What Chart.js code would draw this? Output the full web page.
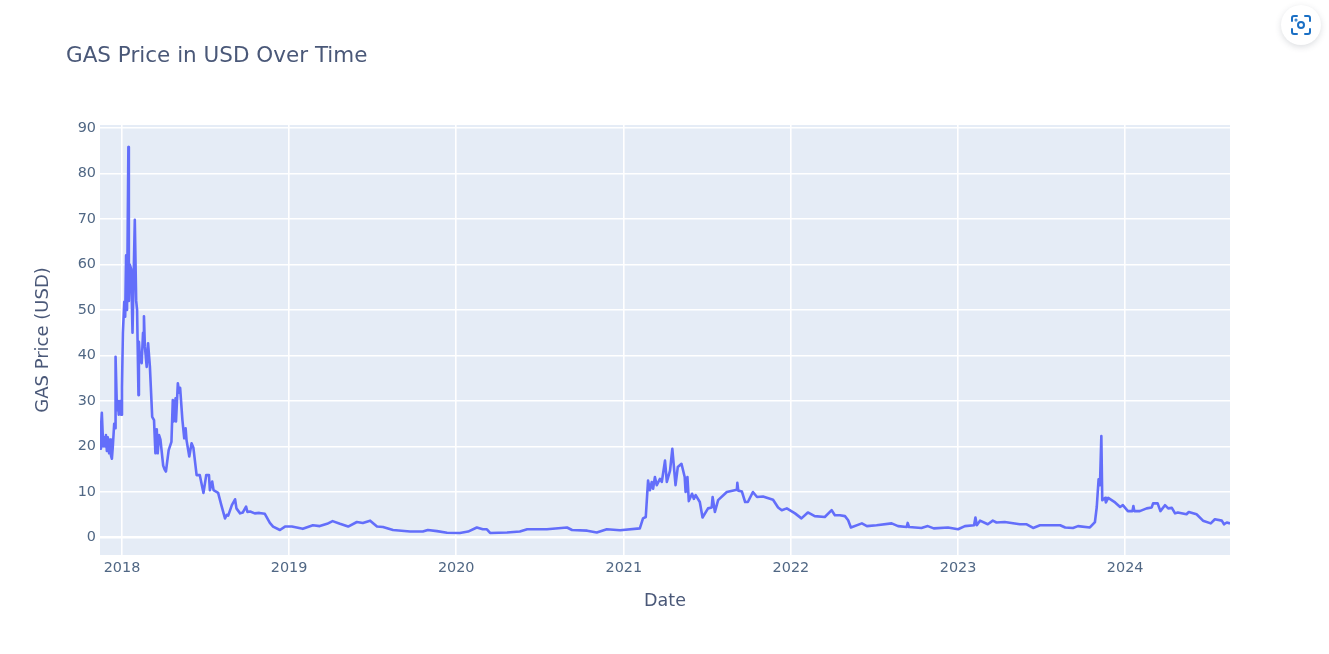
<!DOCTYPE html>
<html><head><meta charset="utf-8">
<script src="https://cdn.jsdelivr.net/npm/chart.js@4"></script>
<style>
html,body{margin:0;padding:0;background:#fff;width:1329px;height:654px;overflow:hidden}
#wrap{position:absolute;left:0;top:0;width:1329px;height:654px}
#cam{position:absolute;left:1281px;top:5px;width:40px;height:40px;border-radius:50%;background:#fff;box-shadow:0 2px 6px rgba(60,70,90,.18)}
#cam svg{position:absolute;left:9px;top:9px}
</style></head><body>
<div id="wrap"><canvas id="c" width="1329" height="654"></canvas></div>
<div id="cam"><svg width="22" height="22" viewBox="0 0 22 22" fill="none" stroke="#1a6fc4" stroke-width="2" stroke-linecap="round"><path d="M2 7V4a2 2 0 0 1 2-2h3M15 2h3a2 2 0 0 1 2 2v3M20 15v3a2 2 0 0 1-2 2h-3M7 20H4a2 2 0 0 1-2-2v-3"/><circle cx="11" cy="11" r="3"/><circle cx="6" cy="6" r=".5"/></svg></div>
<script>
const titleText = 'GAS Price in USD Over Time';
const xTitle = 'Date';
const yTitle = 'GAS Price (USD)';
const origin = Date.UTC(2018, 0, 1);
const dayMs = 86400000;
const yearLabels = ['2018','2019','2020','2021','2022','2023','2024'];
const yearStarts = [0,365,730,1096,1461,1826,2191];
const priceTicks = [0,10,20,30,40,50,60,70,80,90];
const daysSince2018 = [-48,-46,-44,-41,-39,-37,-35,-33,-31,-28,-26,-24,-22,-20,-17,-15,-14,-11,-9,-7,-4,-2,0,2,5,7,9,11,14,15,17,20,23,25,28,31,33,36,37,39,43,46,48,50,54,57,61,66,70,73,76,78,81,84,90,93,96,102,108,111,113,117,118,122,125,127,132,136,139,141,147,152,156,163,170,178,184,190,192,197,200,210,217,225,229,232,240,247,250,258,264,271,274,280,290,300,312,323,330,345,356,371,395,417,432,448,460,476,494,513,526,542,557,570,592,629,657,668,688,710,738,756,775,788,797,804,841,869,885,928,972,983,1016,1037,1059,1088,1131,1138,1144,1149,1153,1157,1160,1164,1168,1175,1179,1186,1190,1197,1202,1209,1214,1222,1229,1231,1235,1238,1245,1249,1253,1262,1268,1280,1288,1290,1295,1302,1321,1343,1344,1346,1354,1361,1367,1378,1387,1400,1422,1433,1441,1452,1470,1484,1498,1513,1535,1550,1557,1568,1579,1586,1592,1616,1627,1648,1681,1695,1714,1716,1719,1746,1760,1773,1804,1826,1841,1861,1864,1867,1874,1891,1902,1910,1928,1961,1976,1990,2005,2049,2060,2077,2088,2114,2125,2129,2133,2136,2139,2141,2147,2149,2154,2169,2180,2186,2197,2207,2209,2211,2223,2238,2249,2252,2262,2268,2278,2285,2293,2300,2306,2325,2330,2347,2361,2378,2387,2402,2407,2413,2420];
const gasPrice = [19.5,24,27.4,20,22,20,22.5,19,22,18.5,21.5,18,17.3,20,25,24,39.7,28,30,27,30,27,33,45,51.8,48.5,62,50,85.8,52,60,59,45,55,69.8,52,50,31.3,43,40,38.3,45,48.6,42,37.5,42.7,37.5,26.5,25.8,18.5,23.8,18.5,22.5,21.5,15.8,15,14.5,19.2,21,30.2,25.5,30.6,25.5,33.9,31.8,32.9,25.8,21.8,24,21.4,17.8,20.7,19.7,13.7,13.7,9.8,13.7,13.7,10.4,12.3,10.4,9.8,7.1,4.2,5,4.8,7.1,8.4,6.4,5.3,5.5,6.8,5.6,5.7,5.3,5.4,5.2,3.2,2.4,1.65,2.4,2.4,1.9,2.7,2.5,3,3.6,3,2.4,3.4,3.2,3.7,2.4,2.3,1.65,1.3,1.3,1.65,1.4,1.05,1,1.3,2.2,1.8,1.8,1,1.1,1.3,1.8,1.8,2.2,1.65,1.5,1.1,1.8,1.6,2,4.2,4.5,12.5,10.4,12.2,10.7,13.3,11.5,12.9,12.2,16.9,12.2,14.7,19.5,11.5,15.5,16.2,13.3,10,13.3,8,9.6,8.5,9.3,7.8,4.4,6.4,6.6,8.9,5.6,8.2,10,10.5,12,10.3,10.1,7.8,7.8,10,8.9,9,8.3,6.6,6,6.4,5.3,4.2,5.5,4.7,4.5,6,4.9,4.9,4.7,3.8,2.2,3.1,2.5,2.7,3.1,2.5,2.3,3.2,2.3,2.1,2.5,2,2.2,1.8,2.5,2.7,4.4,2.7,3.7,2.9,3.7,3.3,3.4,2.9,2.9,2.1,2.7,2.7,2.2,2.1,2.5,2.2,3.4,6.7,12.8,11.5,22.3,8.2,8.7,7.7,8.7,7.7,6.7,7.1,5.8,5.8,6.9,5.8,5.8,6.4,6.6,7.5,7.5,5.8,7.1,6.4,6.5,5.3,5.5,5.1,5.6,5.1,3.7,3.1,4,3.7,2.9,3.3,3.1];

const toMs = d => origin + d * dayMs;
const points = daysSince2018.map((d, i) => ({ x: toMs(d), y: gasPrice[i] }));
const FONT = '"DejaVu Sans", Verdana, sans-serif';

const plotBg = {
  id: 'plotBg',
  beforeDraw(chart) {
    const a = chart.chartArea, g = chart.ctx;
    g.save(); g.fillStyle = '#e5ecf6'; g.fillRect(a.left, a.top, a.right - a.left, a.bottom - a.top); g.restore();
  },
  afterLayout(chart) { chart.titleBlock.left = 66; }
};

new Chart(document.getElementById('c'), {
  type: 'line',
  data: { datasets: [{ label: 'GAS', data: points, borderColor: '#636efa', borderWidth: 2.6, pointRadius: 0, tension: 0, borderJoinStyle: 'round' }] },
  plugins: [plotBg],
  options: {
    responsive: false, animation: false, parsing: false,
    layout: { padding: { right: 99 } },
    plugins: {
      legend: { display: false }, tooltip: { enabled: false },
      title: { display: true, text: titleText, align: 'start', color: '#4a5878',
        font: { family: FONT, size: 21.5, weight: 'normal', lineHeight: 1.2 },
        padding: { top: 43.1, bottom: 56.1 } }
    },
    scales: {
      x: {
        type: 'linear', min: toMs(-48), max: toMs(2420),
        afterFit(s) { s.height = 99; },
        afterBuildTicks(s) { s.ticks = yearStarts.map(d => ({ value: toMs(d) })); },
        grid: { color: '#ffffff', lineWidth: 1.6, drawTicks: false, drawOnChartArea: true },
        border: { display: false },
        ticks: { color: '#506784', font: { family: FONT, size: 14.4 }, padding: 4.5, maxRotation: 0, autoSkip: false,
          callback(v) { const i = yearStarts.findIndex(d => toMs(d) === v); return i >= 0 ? yearLabels[i] : ''; } },
        title: { display: true, text: xTitle, color: '#4a5878', font: { family: FONT, size: 17.5 }, padding: { top: 0, bottom: 42 } }
      },
      y: {
        min: -3.85, max: 90.66,
        afterFit(s) { s.width = 100; },
        afterBuildTicks(s) { s.ticks = priceTicks.map(v => ({ value: v })); },
        grid: { color: '#ffffff', lineWidth: c => c.tick && c.tick.value === 0 ? 2.4 : 1.4, drawTicks: false },
        border: { display: false },
        ticks: { color: '#506784', font: { family: FONT, size: 14.4 }, padding: 4 },
        title: { display: true, text: yTitle, color: '#4a5878', font: { family: FONT, size: 18 }, padding: { top: 33, bottom: 0 } }
      }
    }
  }
});
</script>
</body></html>
